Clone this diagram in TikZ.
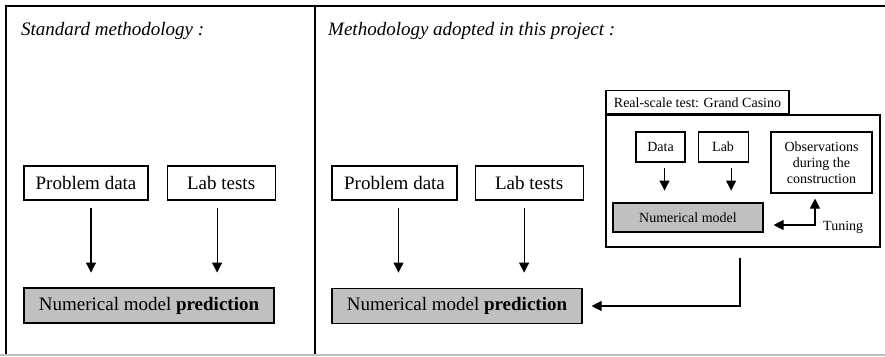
\documentclass[tikz,border=0pt]{standalone}
\usepackage{fontspec}
\setmainfont{Liberation Serif}
\usetikzlibrary{arrows.meta,positioning}
\definecolor{boxgrey}{RGB}{192,192,192}
\tikzset{
  stage/.style={draw, line width=1.1pt, inner sep=0pt, minimum height=34pt, font=\fontsize{19}{22}\selectfont},
  predict/.style={stage, fill=boxgrey, minimum width=250pt, minimum height=35pt},
  small/.style={draw, line width=1.1pt, inner sep=0pt, font=\fontsize{14}{16}\selectfont},
  flow/.style={line width=1.1pt, -{Triangle[length=10pt,width=10pt]}},
  duo/.style={line width=1.1pt, {Triangle[length=10pt,width=10pt]}-{Triangle[length=10pt,width=10pt]}},
  heading/.style={anchor=west, inner sep=0pt, font=\itshape\fontsize{19}{22}\selectfont},
}

\begin{document}
\begin{tikzpicture}[x=1pt,y=-1pt]
\useasboundingbox (0,0) rectangle (885,356);

% frame
\draw[line width=1.1pt] (885,6) -- (6,6) -- (6,355);
\draw[line width=1.1pt] (315,6) -- (315,355);
\draw[gray!50, line width=1.1pt] (0,355) -- (885,355);

\node[heading] (t1) at (21,31) {Standard methodology :}; %
\node[heading] (t2) at (328,31) {Methodology adopted in this project :}; %

% standard methodology
\node[stage, minimum width=124pt] (pd1) at (86,183) {Problem data}; %
\node[stage, minimum width=108pt, right=18pt of pd1] (lt1) {Lab tests}; %
\node[predict] (np1) at (149,305.5) {Numerical model \textbf{prediction}}; %
\draw[flow, shorten <=7pt] ([xshift=5pt]pd1.south) -- ++(0,72);
\draw[flow, shorten <=7pt] ([xshift=-4pt]lt1.south) -- ++(0,72);

% adopted methodology
\node[stage, minimum width=125pt] (pd2) at (394.5,183) {Problem data}; %
\node[stage, minimum width=108pt, right=17pt of pd2] (lt2) {Lab tests}; %
\node[predict] (np2) at (457,306) {Numerical model \textbf{prediction}}; %
\draw[flow, shorten <=7pt] ([xshift=4pt]pd2.south) -- ++(0,72);
\draw[flow, shorten <=7pt] ([xshift=-5pt]lt2.south) -- ++(0,72);

% real-scale test
\node[small, minimum width=274pt, minimum height=132pt] (rs) at (743,181) {}; %
\node[small, anchor=south west, minimum width=183pt, minimum height=23pt] (tab) at (rs.north west) {Real-scale test: Grand Casino}; %
\node[small, minimum width=49pt, minimum height=30pt] (dt) at (660.5,147) {Data}; %
\node[small, minimum width=50pt, minimum height=30pt, right=12pt of dt] (lb) {Lab}; %
\node[small, minimum width=101pt, minimum height=61pt, align=center] (obs) at (821.5,162.5) {Observations\\during the\\construction}; %
\node[small, fill=boxgrey, minimum width=150pt, minimum height=29pt] (nm) at (688,217.5) {Numerical model}; %
\node[anchor=west, inner sep=0pt, font=\fontsize{14}{16}\selectfont] (tn) at (823,227) {Tuning}; %

\draw[flow, shorten <=5pt] ([xshift=4pt]dt.south) -- ++(0,28);
\draw[flow, shorten <=5pt] ([xshift=8pt]lb.south) -- ++(0,28);
\draw[duo, shorten <=10pt, shorten >=5pt] ([yshift=-7.5pt]nm.east) -| ([xshift=-6.5pt]obs.south);
\draw[flow, shorten >=9pt] ([xshift=-3pt,yshift=-10pt]rs.south) |- (np2.east);

\end{tikzpicture}
\end{document}
